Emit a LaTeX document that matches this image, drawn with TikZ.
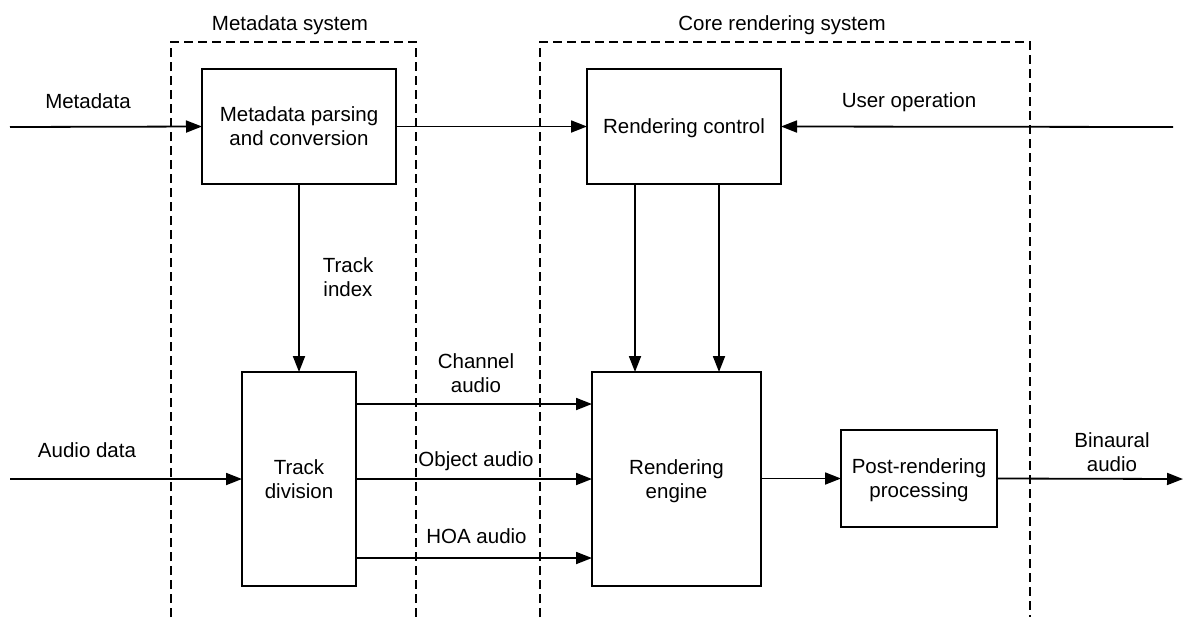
\documentclass[tikz,border=0pt]{standalone}
\usepackage{fontspec}
\setmainfont{Liberation Sans}
\usetikzlibrary{arrows.meta}
\newcommand\lstrut{\rule[-2.33pt]{0pt}{12pt}}
\begin{document}
\begin{tikzpicture}[x=0.5pt,y=-0.5pt,
  every node/.style={font=\fontsize{10.25pt}{12pt}\selectfont, inner sep=0pt, outer sep=0pt},
  blockbox/.style={draw, line width=0.75pt, align=center},
  txt/.style={align=center},
  conn/.style={line width=0.9pt, -{Triangle[length=8pt,width=6pt]}},
  sysbox/.style={line width=0.7pt, dash pattern=on 4.5pt off 2.5pt}]
\useasboundingbox (0,0) rectangle (1184,617);

% dashed system regions
\draw[sysbox] (171,617) -- (171,42) -- (416,42) -- (416,617);
\draw[sysbox] (540,617) -- (540,42) -- (1030,42) -- (1030,617);
\node[txt] (tms) at (290,23) {\lstrut Metadata system};
\node[txt] (tcr) at (782,23) {\lstrut Core rendering system};

% blocks
\node[blockbox, minimum width=97pt, minimum height=57.5pt] (mdp) at (299,126.5) {\lstrut Metadata parsing\\\lstrut and conversion};
\node[blockbox, minimum width=97pt, minimum height=57.5pt] (rc) at (684,126.5) {\lstrut Rendering control};
\node[blockbox, minimum width=57pt, minimum height=107pt] (td) at (299,479) {\lstrut Track\\\lstrut division};
\node[blockbox, minimum width=84.5pt, minimum height=107pt] (re) at (676.5,479) {\lstrut Rendering\\\lstrut engine};
\node[blockbox, minimum width=78pt, minimum height=48.5pt] (prp) at (919,478.5) {\lstrut Post-rendering\\\lstrut processing};

% free ends
\coordinate (inmd) at (10,127);
\coordinate (inuo) at (1173,127);
\coordinate (inad) at (10,479);
\coordinate (outba) at (1183,479);

% labels
\node[txt] (lmd) at (88,101.5) {\lstrut Metadata};
\node[txt] (luo) at (909,100.5) {\lstrut User operation};
\node[txt] (lad) at (87,450.5) {\lstrut Audio data};
\node[txt] (lti) at (348,277.5) {\lstrut Track\\\lstrut index};
\node[txt] (lca) at (476,373.5) {\lstrut Channel\\\lstrut audio};
\node[txt] (loa) at (476,459.5) {\lstrut Object audio};
\node[txt] (lhoa) at (476.5,536.5) {\lstrut HOA audio};
\node[txt] (lba) at (1112,452.5) {\lstrut Binaural\\\lstrut audio};

% connectors
\draw[conn] (inmd) -- (mdp.west);
\draw[conn] (mdp.east) -- (rc.west);
\draw[conn] (inuo) -- (rc.east);
\draw[conn] (mdp.south) -- (td.north);
\draw[conn] (rc.south -| 635,0) -- (re.north -| 635,0);
\draw[conn] (rc.south -| 719,0) -- (re.north -| 719,0);
\draw[conn] (inad) -- (td.west);
\draw[conn] (td.east |- 0,404) -- (re.west |- 0,404);
\draw[conn] (td.east |- 0,479) -- (re.west |- 0,479);
\draw[conn] (td.east |- 0,558) -- (re.west |- 0,558);
\draw[conn] (re.east |- prp.west) -- (prp.west);
\draw[conn] (prp.east) -- (outba);
\end{tikzpicture}
\end{document}
